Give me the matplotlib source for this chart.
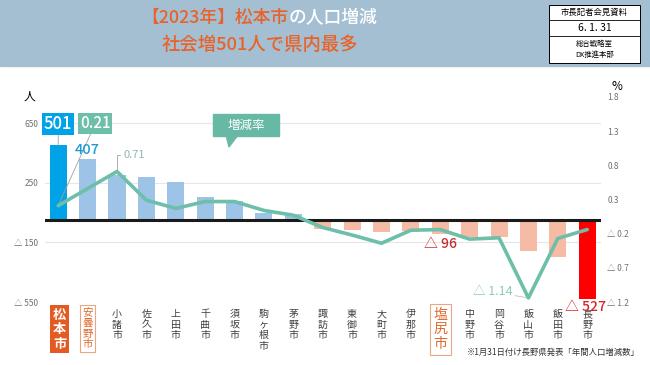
import matplotlib
matplotlib.use('Agg')
import matplotlib.pyplot as plt
from matplotlib.transforms import Affine2D, blended_transform_factory
from matplotlib.patches import Rectangle, Polygon

plt.rcParams['font.family'] = ['Noto Sans CJK JP', 'DejaVu Sans']

# data
cities = ['松本市', '安曇野市', '小諸市', '佐久市', '上田市', '千曲市', '須坂市', '駒ヶ根市', '茅野市',
          '諏訪市', '東御市', '大町市', '伊那市', '塩尻市', '中野市', '岡谷市', '飯山市', '飯田市', '長野市']
pop_change = [501, 407, 300, 288, 258, 157, 125, 45, 37,
              -60, -70, -83, -75, -96, -111, -115, -211, -251, -527]
rate = [0.21, 0.46, 0.71, 0.29, 0.17, 0.27, 0.27, 0.14, 0.07,
        -0.11, -0.22, -0.34, -0.15, -0.14, -0.28, -0.26, -1.14, -0.27, -0.14]
left_ticks = [650, 250, -150, -550]
right_ticks = [1.8, 1.3, 0.8, 0.3, -0.2, -0.7, -1.2]


def tri(v, fmt):  # negative numbers are written with a triangle
    return fmt.format(v) if v >= 0 else '△ ' + fmt.format(-v)


W, H = 650, 365
fig = plt.figure(figsize=(6.5, 3.65), dpi=100)
px = Affine2D().scale(1 / W, -1 / H).translate(0, 1) + fig.transFigure

orange = '#e8622a'
teal = '#6dbfa9'

# ---- header band
fig.add_artist(Rectangle((0, 0), W, 66, transform=px, color='#a4bfd1', zorder=0))
renderer = fig.canvas.get_renderer()


def line_of_parts(parts, xc, y, size):
    ts = [fig.text(0, 0, s, color=c, fontsize=size, va='center', ha='left',
                   transform=px, weight='medium') for s, c in parts]
    ws = [t.get_window_extent(renderer).width for t in ts]
    x = xc - sum(ws) / 2
    for t, w in zip(ts, ws):
        t.set_position((x, y))
        x += w


line_of_parts([('【2023年】松本市', orange), ('の人口増減', 'white')], 259, 18, 12.8)
line_of_parts([('社会増501人で県内最多', orange)], 260, 45, 13.2)

# small info box top right
fig.add_artist(Rectangle((549, 5), 91, 58, transform=px, fc='white', ec='black', lw=0.7))
for yy in (20, 36):
    fig.add_artist(plt.Line2D([549, 640], [yy, yy], transform=px, color='black', lw=0.6))
fig.text(594.5, 12.5, '市長記者会見資料', transform=px, ha='center', va='center', fontsize=6)
fig.text(594.5, 28, '6. 1. 31', transform=px, ha='center', va='center', fontsize=7.5)
fig.text(594.5, 44, '総合戦略室', transform=px, ha='center', va='center', fontsize=5.3)
fig.text(594.5, 55, 'DX推進本部', transform=px, ha='center', va='center', fontsize=5.3)

# ---- main chart
ax = fig.add_axes([45 / W, 1 - 302 / H, (601 - 45) / W, (302 - 97) / H])
x = list(range(len(cities)))
colors = []
for c, v in zip(cities, pop_change):
    if c == '松本市':
        colors.append('#00a2e8')
    elif c == '長野市':
        colors.append('#ff0000')
    else:
        colors.append('#9dc3e6' if v >= 0 else '#f5bba4')
ax.bar(x, pop_change, width=0.58, color=colors, zorder=2)
ax.axhline(0, color='#1a1a1a', lw=2.2, zorder=3)
ax.set_xlim(-0.45, 18.47)
ax.set_ylim(-550, 825)
ax.set_xticks([])
ax.set_yticks(left_ticks, [tri(v, '{:g}') for v in left_ticks])
ax.tick_params(axis='y', length=0, pad=5, labelsize=6, labelcolor='#707070')
ax.grid(axis='y', color='#e6e6e6', lw=0.8, zorder=0)
for s in ax.spines.values():
    s.set_visible(False)

ax2 = ax.twinx()
ax2.plot(x, rate, color=teal, lw=2.6, solid_joinstyle='round', solid_capstyle='round', zorder=4)
ax2.set_ylim(-1.2, 1.8)
ax2.set_yticks(right_ticks, [tri(v, '{:.1f}') for v in right_ticks])
ax2.tick_params(axis='y', length=0, pad=4.5, labelsize=6, labelcolor='#707070')
for s in ax2.spines.values():
    s.set_visible(False)

fig.text(29, 96, '人', transform=px, ha='center', va='center', fontsize=8.5)
fig.text(617, 86, '%', transform=px, ha='center', va='center', fontsize=8.5)

# value labels
lead = dict(arrowstyle='-', color='#a0a0a0', lw=0.6, shrinkA=0, shrinkB=0)
ax2.annotate(f'{pop_change[0]}', xy=(0, pop_change[0]), xycoords=ax.transData,
             xytext=(0, 21), textcoords='offset pixels', ha='center', va='center',
             fontsize=12, color='white', weight='medium',
             bbox=dict(boxstyle='square,pad=0.12', fc='#00a2e8', ec='none'), arrowprops=lead)
ax2.annotate(f'{rate[0]:.2f}', xy=(0, rate[0]), xytext=(37, 82), textcoords='offset pixels',
             ha='center', va='center', fontsize=11, color='white', weight='medium',
             bbox=dict(boxstyle='square,pad=0.12', fc=teal, ec='none'), arrowprops=lead)
ax2.annotate(f'{pop_change[1]}', xy=(1, pop_change[1]), xycoords=ax.transData,
             xytext=(0, 2), textcoords='offset pixels', ha='center', va='bottom',
             fontsize=10.5, color='#1e9bd7', weight='medium')
ax2.annotate(f'{rate[2]:.2f}', xy=(2, rate[2]), xytext=(17, 16), textcoords='offset pixels',
             ha='center', va='center', fontsize=8, color='#8fb5b8',
             arrowprops=dict(lead, connectionstyle='angle,angleA=180,angleB=90,rad=0'))
ax2.annotate(tri(pop_change[13], '{}'), xy=(13, pop_change[13]), xycoords=ax.transData,
             xytext=(0, -3), textcoords='offset pixels', ha='center', va='top',
             fontsize=10, color='#c62f2f', weight='medium')
ax2.annotate(tri(rate[16], '{:.2f}'), xy=(16, rate[16]), xytext=(-36, 6), textcoords='offset pixels',
             ha='center', va='center', fontsize=9, color='#8ccbb8', arrowprops=dict(lead, color='#c0c0c0'))
ax2.annotate(tri(pop_change[18], '{}'), xy=(18, pop_change[18]), xycoords=ax.transData,
             xytext=(-2, -1), textcoords='offset pixels', ha='center', va='top',
             fontsize=10, color='#d7262b', weight='medium')

# callout for the rate line
fig.add_artist(Rectangle((213, 114), 66, 22, transform=px, color='#67b9a6'))
fig.add_artist(Polygon([(226, 135), (238, 135), (229, 147)], closed=True, transform=px, color='#67b9a6'))
fig.text(246, 125, '増減率', transform=px, ha='center', va='center', fontsize=9, color='white')

# vertical city names
lab = blended_transform_factory(ax.transData, px)
for i, c in enumerate(cities):
    s = '\n'.join(c)
    if c == '松本市':
        ax.text(i + 0.05, 307.5, s, transform=lab, ha='center', va='top', fontsize=9.5,
                color='white', weight='bold', linespacing=1.05,
                bbox=dict(boxstyle='square,pad=0.2', fc='#e35b22', ec='none'))
    elif c in ('安曇野市', '塩尻市'):
        fs = 7.5 if c == '安曇野市' else 10
        ax.text(i, 307.5, s, transform=lab, ha='center', va='top', fontsize=fs,
                color='#e06a2f', linespacing=1.08,
                bbox=dict(boxstyle='square,pad=0.25', fc='white', ec='#eaa582', lw=0.8))
    else:
        ax.text(i, 309, s, transform=lab, ha='center', va='top', fontsize=7.2,
                color='#404040', linespacing=1.08, zorder=1)

fig.text(640, 352, '※1月31日付け長野県発表「年間人口増減数」', transform=px,
         ha='right', va='center', fontsize=6, color='#333333')

fig.savefig('out.png', dpi=100)
